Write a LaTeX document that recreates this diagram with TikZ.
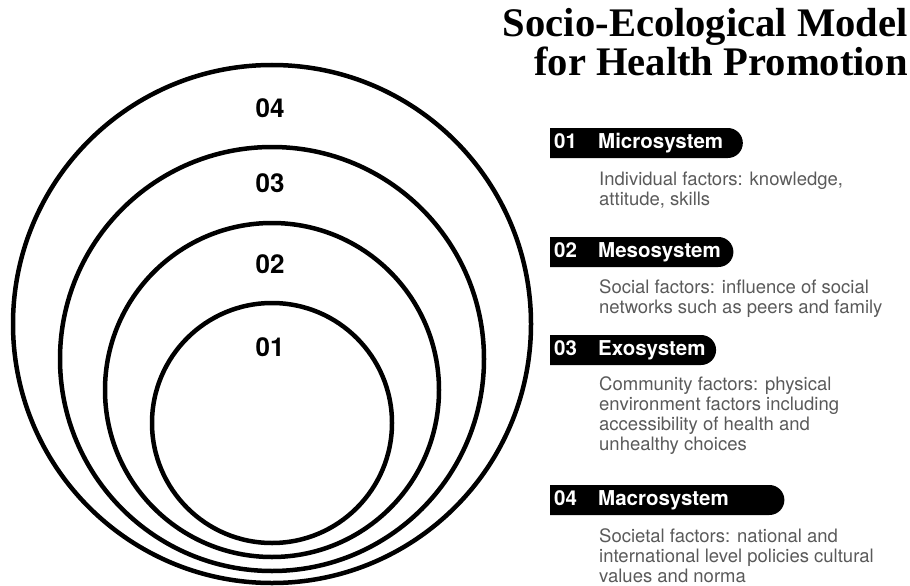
\documentclass[tikz,border=0pt]{standalone}
\usepackage{fontspec}
\setmainfont{Liberation Serif}
\setsansfont{TeX Gyre Heros}
\usetikzlibrary{shapes.misc}
\definecolor{descgray}{HTML}{5A5A5A}
% number, gap, name, extra room before the arc
\newcommand{\tagline}[3]{\makebox[44pt][l]{#1}#2\kern#3pt}

\begin{document}
\begin{tikzpicture}[x=1pt,y=-1pt,
    ring/.style={line width=4.5pt},
    ringlabel/.style={font=\sffamily\bfseries\fontsize{26}{26}\selectfont},
    tag/.style={rounded rectangle, rounded rectangle left arc=none, fill=black,
      text=white, minimum height=30pt, inner xsep=4pt, inner ysep=0pt, anchor=west,
      font=\sffamily\bfseries\fontsize{20.5}{20.5}\selectfont},
    desc/.style={anchor=base west, align=left, inner sep=0pt, text=descgray,
      font=\sffamily\fontsize{18.5}{20}\selectfont}]
    \useasboundingbox (0,0) rectangle (910,586);
    % title, top right (base = last line)
    \node[anchor=base east, align=right, inner sep=0pt,
      font=\bfseries\fontsize{40.6}{37}\selectfont] (title) at (908,75)
      {Socio-Ecological Model\\for Health Promotion};
    % nested rings
    \foreach \cy/\r in {324/259, 359/212, 390/167, 423/120}
      \draw[ring] (272,\cy) circle[radius=\r pt];
    \node[ringlabel] (l4) at (270,108) {04};
    \node[ringlabel] (l3) at (270,183) {03};
    \node[ringlabel] (l2) at (270,264) {02};
    \node[ringlabel] (l1) at (270,347) {01};
    % legend
    \node[tag] (t1) at (550,143) {\tagline{01}{Microsystem}{12}};
    \node[desc] (d1) at (599,205) {Individual factors: knowledge,\\attitude, skills};
    \node[tag] (t2) at (550,252) {\tagline{02}{Mesosystem}{5}};
    \node[desc] (d2) at (599,313) {Social factors: influence of social\\networks such as peers and family};
    \node[tag] (t3) at (550,350) {\tagline{03}{Exosystem}{3}};
    \node[desc] (d3) at (599,450) {Community factors: physical\\environment factors including\\accessibility of health and\\unhealthy choices};
    \node[tag] (t4) at (550,500) {\tagline{04}{Macrosystem}{48}};
    \node[desc] (d4) at (599,582) {Societal factors: national and\\international level policies cultural\\values and norma};
\end{tikzpicture}
\end{document}
